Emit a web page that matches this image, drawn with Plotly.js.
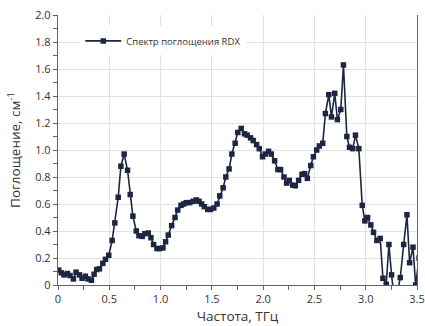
<!DOCTYPE html>
<html><head><meta charset="utf-8">
<script src="https://cdn.plot.ly/plotly-3.0.1.min.js"></script>
<style>html,body{margin:0;padding:0;background:#fff}#chart{width:425px;height:326px}</style>
</head><body><div id="chart"></div>
<script>
const freq = [0.007,0.033,0.059,0.091,0.117,0.150,0.176,0.209,0.235,0.267,0.293,0.326,0.352,0.378,0.404,0.437,0.463,0.495,0.528,0.554,0.587,0.613,0.645,0.678,0.704,0.730,0.763,0.789,0.821,0.847,0.880,0.906,0.932,0.965,0.991,1.023,1.049,1.075,1.108,1.141,1.167,1.199,1.225,1.251,1.284,1.317,1.349,1.375,1.401,1.427,1.460,1.486,1.519,1.551,1.577,1.610,1.636,1.668,1.695,1.727,1.753,1.786,1.818,1.844,1.877,1.903,1.936,1.962,1.994,2.020,2.053,2.079,2.112,2.144,2.170,2.203,2.229,2.255,2.288,2.314,2.346,2.379,2.405,2.431,2.464,2.490,2.522,2.548,2.581,2.607,2.640,2.666,2.698,2.724,2.757,2.783,2.816,2.842,2.874,2.900,2.933,2.966,2.992,3.018,3.050,3.076,3.109,3.141,3.168,3.200,3.226,3.252,3.285,3.311,3.337,3.370,3.402,3.428,3.461,3.487,3.520];
const absorb = [0.11,0.09,0.075,0.085,0.07,0.045,0.095,0.075,0.05,0.065,0.045,0.035,0.08,0.115,0.12,0.16,0.19,0.22,0.33,0.46,0.65,0.88,0.97,0.85,0.67,0.51,0.40,0.365,0.36,0.38,0.385,0.35,0.30,0.27,0.27,0.275,0.32,0.37,0.44,0.50,0.555,0.59,0.60,0.61,0.61,0.62,0.63,0.62,0.60,0.58,0.56,0.56,0.57,0.60,0.66,0.72,0.80,0.86,0.97,1.05,1.13,1.16,1.12,1.11,1.09,1.07,1.04,1.01,0.95,0.97,0.99,0.97,0.92,0.855,0.855,0.80,0.755,0.775,0.74,0.735,0.775,0.82,0.825,0.79,0.885,0.95,1.00,1.03,1.05,1.27,1.41,1.245,1.42,1.225,1.30,1.63,1.10,1.02,1.01,1.11,1.01,0.59,0.475,0.50,0.445,0.39,0.33,0.345,0.05,0.005,0.30,0.075,-0.15,-0.05,0.055,0.30,0.52,0.165,0.28,0.0,0.20];
const seriesName = 'Спектр поглощения RDX';
const xTickVals = [0,0.5,1.0,1.5,2.0,2.5,3.0,3.5];
const xTickText = ['0','0.5','1.0','1.5','2.0','2.5','3.0','3.5'];
const yTickVals = [0,0.2,0.4,0.6,0.8,1.0,1.2,1.4,1.6,1.8,2.0];
const yTickText = ['0','0.2','0.4','0.6','0.8','1.0','1.2','1.4','1.6','1.8','2.0'];
const xTitle = 'Частота, ТГц';
const yTitle = 'Поглощение, см<sup>-1</sup>';

const navy = '#1d2640';
const axisCol = '#5b6374';
const fontFam = '"Open Sans", "Noto Sans", sans-serif';

Plotly.newPlot('chart', [{
  x: freq, y: absorb, name: seriesName, type: 'scatter', mode: 'lines+markers',
  line: {color: navy, width: 1.6},
  marker: {symbol: 'square', size: 5.5, color: navy},
  cliponaxis: true
}], {
  width: 425, height: 326,
  margin: {l: 58, r: 8, t: 15, b: 41},
  paper_bgcolor: '#fff', plot_bgcolor: '#fff',
  font: {family: fontFam, color: '#333', size: 11},
  showlegend: true,
  legend: {x: 0.062, y: 0.904, xanchor: 'left', yanchor: 'middle', bgcolor: '#fff',
           font: {size: 9.5, color: '#333', family: fontFam}, itemwidth: 36},
  xaxis: {
    range: [0, 3.5], tickvals: xTickVals, ticktext: xTickText,
    showgrid: true, gridcolor: '#e2e2e2', gridwidth: 1,
    showline: true, linecolor: axisCol, linewidth: 1.2,
    ticks: 'outside', ticklen: 4, tickcolor: axisCol,
    minor: {dtick: 0.25, ticks: 'outside', ticklen: 4, tickcolor: axisCol, showgrid: false},
    zeroline: false, tickfont: {size: 11, color: '#333'},
    title: {text: xTitle, font: {size: 13.5, color: '#333'}, standoff: 6}
  },
  yaxis: {
    range: [0, 2.0], tickvals: yTickVals, ticktext: yTickText,
    showgrid: true, gridcolor: '#e2e2e2', gridwidth: 1,
    showline: true, linecolor: axisCol, linewidth: 1.2, mirror: true,
    ticks: 'outside', ticklen: 4, tickcolor: axisCol,
    minor: {dtick: 0.1, ticks: 'outside', ticklen: 4, tickcolor: axisCol, showgrid: false},
    zeroline: false, tickfont: {size: 11, color: '#333'},
    title: {text: yTitle, font: {size: 13.5, color: '#333'}, standoff: 11}
  }
}, {displayModeBar: false, staticPlot: true});
</script></body></html>
